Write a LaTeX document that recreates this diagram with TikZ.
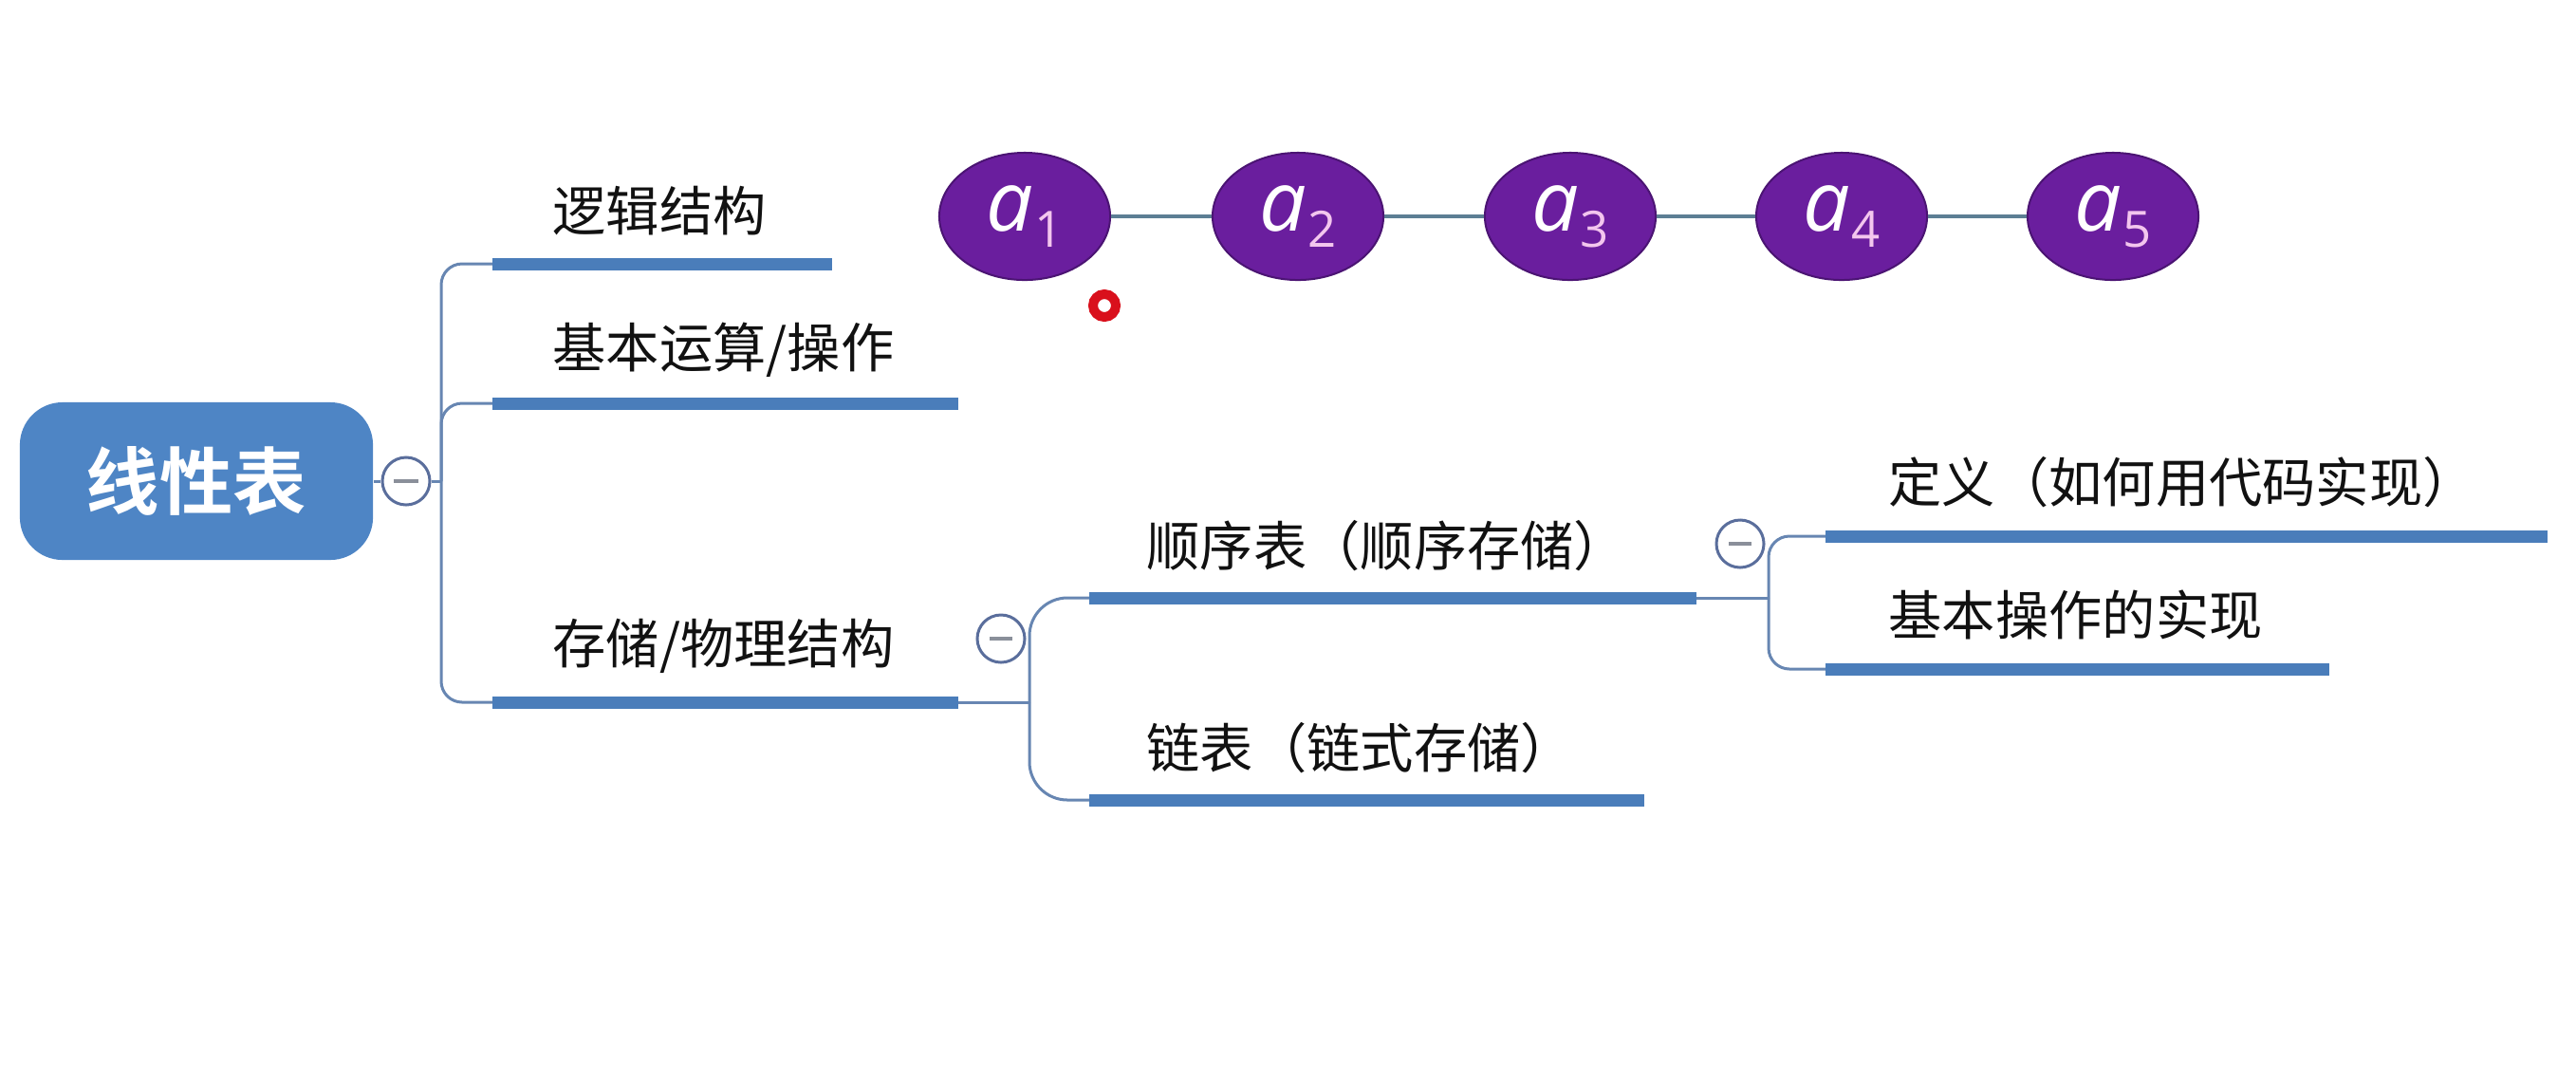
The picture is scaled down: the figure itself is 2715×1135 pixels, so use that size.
\documentclass[tikz,border=0pt]{standalone}
\usepackage{fontspec}
\newfontfamily\cjk{Noto Sans CJK SC}[BoldFont={Noto Sans CJK SC Bold}]
\newfontfamily\elfont{Open Sans}
\usetikzlibrary{shapes.geometric}
\definecolor{rootblue}{HTML}{4E85C5}
\definecolor{ulblue}{HTML}{4A7DBA}
\definecolor{thinblue}{HTML}{6786B2}
\definecolor{foldc}{HTML}{5A6E9C}
\definecolor{minusc}{HTML}{8A8F9A}
\definecolor{purp}{HTML}{6A1E9E}
\definecolor{purpdark}{HTML}{4B1473}
\definecolor{chainc}{HTML}{5C7E94}
\definecolor{subpink}{HTML}{F3C6EE}
\definecolor{curred}{HTML}{D9101C}
\definecolor{txt}{HTML}{111111}
\newcommand{\elab}[1]{{\elfont\itshape\color{white}\fontsize{25}{26}\selectfont a\kern0.02cm\raisebox{-0.17cm}{\upshape\color{subpink}\fontsize{15}{16}\selectfont #1}}}
\begin{document}
\begin{tikzpicture}[x=0.01cm,y=-0.01cm,
  lbl/.style={anchor=west,inner sep=0pt,font=\cjk\fontsize{16}{18}\selectfont,text=txt},
  ul/.style={draw=ulblue,line width=0.13cm},
  br/.style={draw=thinblue,line width=0.03cm,rounded corners=0.22cm},
  brwide/.style={draw=thinblue,line width=0.03cm,rounded corners=0.4cm},
  fold/.style={circle,draw=foldc,fill=white,line width=0.03cm,minimum size=0.5cm,inner sep=0pt},
  minus/.style={draw=minusc,line width=0.035cm},
  elem/.style={ellipse,draw=purpdark,fill=purp,line width=0.02cm,minimum width=1.8cm,minimum height=1.34cm,inner sep=0pt},
  chain/.style={draw=chainc,line width=0.04cm}]
\useasboundingbox (0,0) rectangle (2715,1135);
\fill[white] (0,0) rectangle (2715,1135);

% root
\node[rounded corners=0.45cm,fill=rootblue,minimum width=3.72cm,minimum height=1.66cm,inner sep=0pt,
      font=\cjk\bfseries\fontsize{22}{24}\selectfont,text=white] (root) at (207,507) {线性表};
\node[fold] (f0) at (428,507) {};
\draw[minus] ([xshift=-0.13cm]f0.center) -- ([xshift=0.13cm]f0.center);
\draw[br] (root.east) -- (f0.west);
\coordinate (s0) at (465,507);
\draw[br] (f0.east) -- (s0);

% level 1 underlines
\coordinate (u1a) at (519,278); \coordinate (u1b) at (877,278);
\coordinate (u2a) at (519,425); \coordinate (u2b) at (1010,425);
\coordinate (u3a) at (519,740); \coordinate (u3b) at (1010,740);
\draw[br] (s0) |- (u1a);
\draw[br] (s0) |- (u2a);
\draw[br] (s0) |- (u3a);
\draw[ul] (u1a) -- (u1b);
\draw[ul] (u2a) -- (u2b);
\draw[ul] (u3a) -- (u3b);
\node[lbl] (t1) at (582,222) {逻辑结构};
\node[lbl] (t2) at (582,369) {基本运算/操作};
\node[lbl] (t3) at (582,681) {存储/物理结构};

% level 2
\node[fold] (f1) at (1055,673) {};
\draw[minus] ([xshift=-0.12cm]f1.center) -- ([xshift=0.12cm]f1.center);
\coordinate (j1) at (1085,740);
\coordinate (u4a) at (1148,630); \coordinate (u4b) at (1788,630);
\coordinate (u5a) at (1148,843); \coordinate (u5b) at (1733,843);
\draw[br] (u3b) -- (j1);
\draw[brwide] (j1) |- (u4a);
\draw[brwide] (j1) |- (u5a);
\draw[ul] (u4a) -- (u4b);
\draw[ul] (u5a) -- (u5b);
\node[lbl] (t4) at (1208,575) {顺序表（顺序存储）};
\node[lbl] (t5) at (1208,788) {链表（链式存储）};

% level 3
\node[fold] (f2) at (1834,573) {};
\draw[minus] ([xshift=-0.12cm]f2.center) -- ([xshift=0.12cm]f2.center);
\coordinate (j2) at (1864,630);
\coordinate (u6a) at (1924,565); \coordinate (u6b) at (2685,565);
\coordinate (u7a) at (1924,705); \coordinate (u7b) at (2455,705);
\draw[br] (u4b) -- (j2);
\draw[br] (j2) |- (u6a);
\draw[br] (j2) |- (u7a);
\draw[ul] (u6a) -- (u6b);
\draw[ul] (u7a) -- (u7b);
\node[lbl] (t6) at (1990,508) {定义（如何用代码实现）};
\node[lbl] (t7) at (1990,648) {基本操作的实现};

% chain of elements
\node[elem] (e1) at (1080,228) {\elab{1}};
\node[elem] (e2) at (1368,228) {\elab{2}};
\node[elem] (e3) at (1655,228) {\elab{3}};
\node[elem] (e4) at (1941,228) {\elab{4}};
\node[elem] (e5) at (2227,228) {\elab{5}};
\draw[chain] (e1) -- (e2);
\draw[chain] (e2) -- (e3);
\draw[chain] (e3) -- (e4);
\draw[chain] (e4) -- (e5);

% pointer mark
\node[circle,draw=curred,fill=white,line width=0.1cm,minimum size=0.24cm,inner sep=0pt] (cursor) at (1164,322) {};
\end{tikzpicture}
\end{document}
